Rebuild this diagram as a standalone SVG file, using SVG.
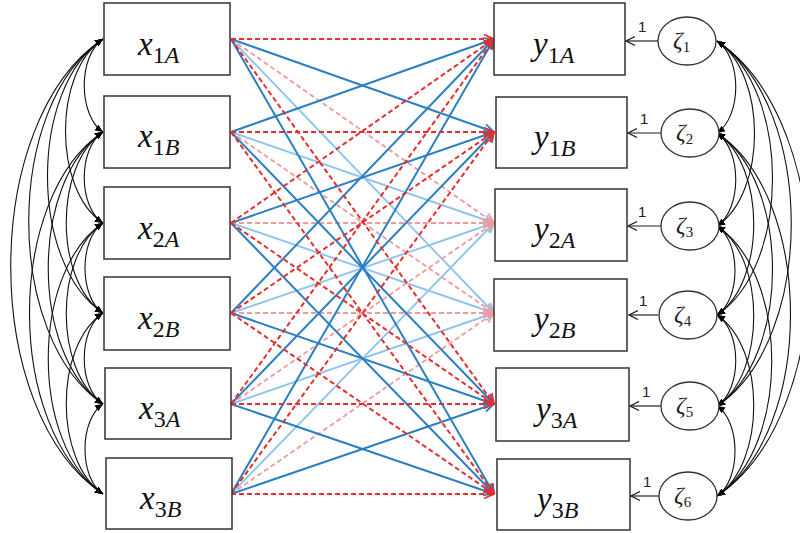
<svg xmlns="http://www.w3.org/2000/svg" width="800" height="533" viewBox="0 0 800 533">
<defs>
<style>
.box{fill:#fff;stroke:#333;stroke-width:1.5}
.circ{fill:#fff;stroke:#333;stroke-width:1.3}
.lbl{font-family:"Liberation Serif",serif;font-size:33px;font-style:italic;fill:#111}
.sub{font-size:24px}
.up{font-style:normal}
.zl{font-family:"Liberation Serif",serif;font-size:24px;font-style:italic;fill:#222}
.zs{font-size:15px;font-style:normal}
.one{font-family:"Liberation Sans",sans-serif;font-size:15px;fill:#222}
.cov{fill:none;stroke:#111;stroke-width:1.1;marker-start:url(#fb);marker-end:url(#fb)}
.ld{stroke:#222;stroke-width:1.2;marker-end:url(#ob)}
.r{fill:none;stroke:#e3302f;stroke-width:2;stroke-dasharray:5 3;marker-end:url(#mr)}
.p{fill:none;stroke:#f29a9a;stroke-width:1.8;stroke-dasharray:5 3;marker-end:url(#mp)}
.b{fill:none;stroke:#2c7fc1;stroke-width:2;marker-end:url(#mb)}
.l{fill:none;stroke:#8fc5ec;stroke-width:1.9;marker-end:url(#ml)}
</style>
<marker id="fb" viewBox="0 0 8 7" refX="8" refY="3.5" markerWidth="8" markerHeight="7" markerUnits="userSpaceOnUse" orient="auto-start-reverse"><path d="M0,0 L8,3.5 L0,7 z" fill="#000"/></marker>
<marker id="ob" viewBox="0 0 10 10" refX="9" refY="5" markerWidth="10" markerHeight="10" markerUnits="userSpaceOnUse" orient="auto"><path d="M0,0.5 L9,5 L0,9.5" fill="none" stroke="#222" stroke-width="1.2"/></marker>
<marker id="mr" viewBox="0 0 12 12" refX="11" refY="6" markerWidth="12" markerHeight="12" markerUnits="userSpaceOnUse" orient="auto"><path d="M1,1.5 L11,6 L1,10.5" fill="none" stroke="#e3302f" stroke-width="1.8"/></marker>
<marker id="mp" viewBox="0 0 12 12" refX="11" refY="6" markerWidth="12" markerHeight="12" markerUnits="userSpaceOnUse" orient="auto"><path d="M1,1.5 L11,6 L1,10.5" fill="none" stroke="#f29a9a" stroke-width="1.8"/></marker>
<marker id="mb" viewBox="0 0 12 12" refX="11" refY="6" markerWidth="12" markerHeight="12" markerUnits="userSpaceOnUse" orient="auto"><path d="M1,1.5 L11,6 L1,10.5" fill="none" stroke="#2c7fc1" stroke-width="1.8"/></marker>
<marker id="ml" viewBox="0 0 12 12" refX="11" refY="6" markerWidth="12" markerHeight="12" markerUnits="userSpaceOnUse" orient="auto"><path d="M1,1.5 L11,6 L1,10.5" fill="none" stroke="#8fc5ec" stroke-width="1.8"/></marker>
</defs>

<g id="connectors">
<g id="cov-x">
<path class="cov" d="M103,39 C78,56 78,115 103,132"/>
<path class="cov" d="M103,39 C53,72 53,190 103,223"/>
<path class="cov" d="M103,39 C29,88 29,264 103,313"/>
<path class="cov" d="M103,39 C4,105 4,338 103,404"/>
<path class="cov" d="M103,39 C-20,121 -20,412 103,494"/>
<path class="cov" d="M103,132 C78,148 78,207 103,223"/>
<path class="cov" d="M103,132 C54,165 54,280 103,313"/>
<path class="cov" d="M103,132 C30,181 30,355 103,404"/>
<path class="cov" d="M103,132 C5,197 5,429 103,494"/>
<path class="cov" d="M103,223 C79,239 79,297 103,313"/>
<path class="cov" d="M103,223 C54,256 54,371 103,404"/>
<path class="cov" d="M103,223 C30,272 30,445 103,494"/>
<path class="cov" d="M103,313 C78,329 78,388 103,404"/>
<path class="cov" d="M103,313 C54,346 54,461 103,494"/>
<path class="cov" d="M103,404 C79,420 79,478 103,494"/>
</g>
<g id="cov-z">
<path class="cov" d="M717,41 C742,58 742,116 717,133"/>
<path class="cov" d="M717,41 C767,74 767,193 717,226"/>
<path class="cov" d="M717,41 C791,90 791,266 717,315"/>
<path class="cov" d="M717,41 C816,107 816,340 717,406"/>
<path class="cov" d="M717,41 C840,123 840,414 717,496"/>
<path class="cov" d="M717,133 C742,150 742,209 717,226"/>
<path class="cov" d="M717,133 C766,166 766,282 717,315"/>
<path class="cov" d="M717,133 C791,182 791,357 717,406"/>
<path class="cov" d="M717,133 C815,198 815,431 717,496"/>
<path class="cov" d="M717,226 C741,242 741,299 717,315"/>
<path class="cov" d="M717,226 C766,258 766,374 717,406"/>
<path class="cov" d="M717,226 C790,275 790,447 717,496"/>
<path class="cov" d="M717,315 C742,331 742,390 717,406"/>
<path class="cov" d="M717,315 C766,348 766,463 717,496"/>
<path class="cov" d="M717,406 C741,422 741,480 717,496"/>
</g>
<g id="paths">
<line class="l" x1="231" y1="39" x2="494" y2="313"/>
<line class="l" x1="231" y1="132" x2="494" y2="223"/>
<line class="l" x1="231" y1="223" x2="494" y2="313"/>
<line class="l" x1="231" y1="313" x2="494" y2="223"/>
<line class="l" x1="231" y1="404" x2="494" y2="313"/>
<line class="l" x1="231" y1="494" x2="494" y2="223"/>
<line class="p" x1="231" y1="39" x2="494" y2="223"/>
<line class="p" x1="231" y1="132" x2="494" y2="313"/>
<line class="p" x1="231" y1="223" x2="494" y2="223"/>
<line class="p" x1="231" y1="313" x2="494" y2="313"/>
<line class="p" x1="231" y1="404" x2="494" y2="223"/>
<line class="p" x1="231" y1="494" x2="494" y2="313"/>
<line class="b" x1="231" y1="39" x2="494" y2="132"/>
<line class="b" x1="231" y1="39" x2="494" y2="494"/>
<line class="b" x1="231" y1="132" x2="494" y2="39"/>
<line class="b" x1="231" y1="132" x2="494" y2="404"/>
<line class="b" x1="231" y1="223" x2="494" y2="132"/>
<line class="b" x1="231" y1="223" x2="494" y2="494"/>
<line class="b" x1="231" y1="313" x2="494" y2="39"/>
<line class="b" x1="231" y1="313" x2="494" y2="404"/>
<line class="b" x1="231" y1="404" x2="494" y2="132"/>
<line class="b" x1="231" y1="404" x2="494" y2="494"/>
<line class="b" x1="231" y1="494" x2="494" y2="39"/>
<line class="b" x1="231" y1="494" x2="494" y2="404"/>
<line class="r" x1="231" y1="39" x2="494" y2="39"/>
<line class="r" x1="231" y1="39" x2="494" y2="404"/>
<line class="r" x1="231" y1="132" x2="494" y2="132"/>
<line class="r" x1="231" y1="132" x2="494" y2="494"/>
<line class="r" x1="231" y1="223" x2="494" y2="39"/>
<line class="r" x1="231" y1="223" x2="494" y2="404"/>
<line class="r" x1="231" y1="313" x2="494" y2="132"/>
<line class="r" x1="231" y1="313" x2="494" y2="494"/>
<line class="r" x1="231" y1="404" x2="494" y2="39"/>
<line class="r" x1="231" y1="404" x2="494" y2="404"/>
<line class="r" x1="231" y1="494" x2="494" y2="132"/>
<line class="r" x1="231" y1="494" x2="494" y2="494"/>
</g>
<g id="loadings">
<line class="ld" x1="658" y1="41" x2="626" y2="41"/>
<line class="ld" x1="661" y1="133" x2="628" y2="133"/>
<line class="ld" x1="661" y1="226" x2="628" y2="226"/>
<line class="ld" x1="658" y1="315" x2="629" y2="315"/>
<line class="ld" x1="661" y1="406" x2="630" y2="406"/>
<line class="ld" x1="659" y1="496" x2="631" y2="496"/>
<text class="one" x="638" y="32">1</text>
<text class="one" x="640" y="124">1</text>
<text class="one" x="638" y="217">1</text>
<text class="one" x="639" y="306">1</text>
<text class="one" x="642" y="397">1</text>
<text class="one" x="643" y="487">1</text>
</g>
</g>

<g id="x1A"><rect class="box" x="104" y="3" width="126" height="72"/><text class="lbl" x="138" y="55">x<tspan class="sub up" dy="8">1</tspan><tspan class="sub">A</tspan></text></g>
<g id="x1B"><rect class="box" x="104" y="96" width="126" height="72"/><text class="lbl" x="138" y="147">x<tspan class="sub up" dy="8">1</tspan><tspan class="sub">B</tspan></text></g>
<g id="x2A"><rect class="box" x="104" y="187" width="126" height="72"/><text class="lbl" x="138" y="239">x<tspan class="sub up" dy="8">2</tspan><tspan class="sub">A</tspan></text></g>
<g id="x2B"><rect class="box" x="104" y="277" width="126" height="73"/><text class="lbl" x="138" y="329">x<tspan class="sub up" dy="8">2</tspan><tspan class="sub">B</tspan></text></g>
<g id="x3A"><rect class="box" x="105" y="368" width="126" height="71"/><text class="lbl" x="139" y="419">x<tspan class="sub up" dy="8">3</tspan><tspan class="sub">A</tspan></text></g>
<g id="x3B"><rect class="box" x="106" y="458" width="126" height="71"/><text class="lbl" x="140" y="509">x<tspan class="sub up" dy="8">3</tspan><tspan class="sub">B</tspan></text></g>

<g id="y1A"><rect class="box" x="494" y="3" width="131" height="72"/><text class="lbl" x="533" y="55">y<tspan class="sub up" dy="8">1</tspan><tspan class="sub">A</tspan></text></g>
<g id="y1B"><rect class="box" x="496" y="97" width="131" height="71"/><text class="lbl" x="534" y="148">y<tspan class="sub up" dy="8">1</tspan><tspan class="sub">B</tspan></text></g>
<g id="y2A"><rect class="box" x="495" y="189" width="132" height="72"/><text class="lbl" x="534" y="240">y<tspan class="sub up" dy="8">2</tspan><tspan class="sub">A</tspan></text></g>
<g id="y2B"><rect class="box" x="494" y="279" width="133" height="72"/><text class="lbl" x="534" y="330">y<tspan class="sub up" dy="8">2</tspan><tspan class="sub">B</tspan></text></g>
<g id="y3A"><rect class="box" x="496" y="368" width="133" height="73"/><text class="lbl" x="536" y="420">y<tspan class="sub up" dy="8">3</tspan><tspan class="sub">A</tspan></text></g>
<g id="y3B"><rect class="box" x="497" y="459" width="133" height="71"/><text class="lbl" x="537" y="510">y<tspan class="sub up" dy="8">3</tspan><tspan class="sub">B</tspan></text></g>

<g id="z1"><ellipse class="circ" cx="687" cy="41" rx="29" ry="24"/><text class="zl" x="673" y="48">ζ<tspan class="zs" dy="4">1</tspan></text></g>
<g id="z2"><ellipse class="circ" cx="690" cy="133" rx="29" ry="24"/><text class="zl" x="676" y="140">ζ<tspan class="zs" dy="4">2</tspan></text></g>
<g id="z3"><ellipse class="circ" cx="690" cy="226" rx="29" ry="24"/><text class="zl" x="676" y="233">ζ<tspan class="zs" dy="4">3</tspan></text></g>
<g id="z4"><ellipse class="circ" cx="688" cy="315" rx="29" ry="24"/><text class="zl" x="674" y="322">ζ<tspan class="zs" dy="4">4</tspan></text></g>
<g id="z5"><ellipse class="circ" cx="690" cy="406" rx="29" ry="24"/><text class="zl" x="676" y="413">ζ<tspan class="zs" dy="4">5</tspan></text></g>
<g id="z6"><ellipse class="circ" cx="688" cy="496" rx="29" ry="24"/><text class="zl" x="674" y="503">ζ<tspan class="zs" dy="4">6</tspan></text></g>
</svg>
